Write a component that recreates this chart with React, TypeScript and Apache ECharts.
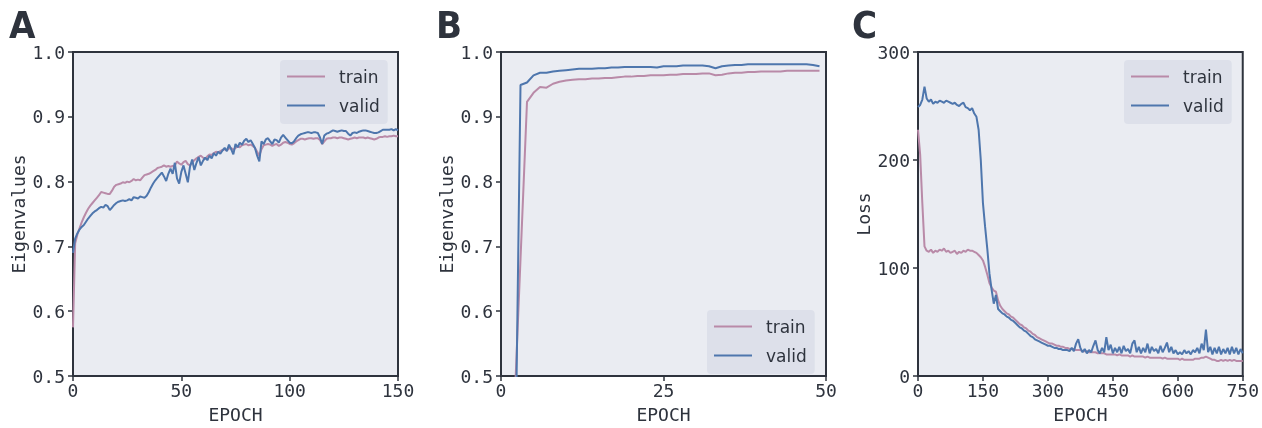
import React, { useEffect, useRef } from "react";
import * as echarts from "echarts";

// Panel A: eigenvalues over 150 epochs (one value per epoch, 0..150)
const trainA = [
  0.575, 0.705, 0.718, 0.728, 0.737, 0.745, 0.752, 0.758, 0.763, 0.767,
  0.771, 0.775, 0.779, 0.784, 0.783, 0.782, 0.781, 0.781, 0.786, 0.792,
  0.795, 0.796, 0.797, 0.799, 0.798, 0.800, 0.799, 0.801, 0.804, 0.802,
  0.803, 0.802, 0.806, 0.810, 0.811, 0.812, 0.814, 0.816, 0.818, 0.821,
  0.822, 0.823, 0.825, 0.823, 0.824, 0.823, 0.824, 0.825, 0.831, 0.828,
  0.826, 0.830, 0.832, 0.827, 0.825, 0.829, 0.833, 0.836, 0.838, 0.840,
  0.837, 0.835, 0.839, 0.842, 0.841, 0.844, 0.846, 0.845, 0.847, 0.849,
  0.850, 0.848, 0.851, 0.852, 0.849, 0.852, 0.854, 0.853, 0.856, 0.857,
  0.858, 0.856, 0.857, 0.855, 0.852, 0.846, 0.840, 0.850, 0.856, 0.857,
  0.858, 0.857, 0.855, 0.857, 0.858, 0.855, 0.857, 0.860, 0.861, 0.860,
  0.858, 0.857, 0.859, 0.862, 0.864, 0.866, 0.866, 0.865, 0.866, 0.867,
  0.867, 0.866, 0.867, 0.867, 0.864, 0.858, 0.862, 0.866, 0.867, 0.867,
  0.868, 0.868, 0.867, 0.868, 0.868, 0.867, 0.866, 0.865, 0.866, 0.867,
  0.868, 0.867, 0.868, 0.868, 0.868, 0.867, 0.868, 0.867, 0.866, 0.865,
  0.866, 0.868, 0.869, 0.869, 0.870, 0.869, 0.870, 0.870, 0.871, 0.870,
  0.870,
];
const validA = [
  0.690, 0.712, 0.720, 0.726, 0.730, 0.733, 0.738, 0.743, 0.747, 0.751,
  0.754, 0.756, 0.759, 0.761, 0.760, 0.764, 0.762, 0.756, 0.760, 0.764,
  0.767, 0.769, 0.770, 0.771, 0.770, 0.771, 0.773, 0.771, 0.776, 0.775,
  0.774, 0.777, 0.776, 0.775, 0.778, 0.784, 0.791, 0.797, 0.802, 0.806,
  0.810, 0.814, 0.808, 0.801, 0.812, 0.820, 0.812, 0.829, 0.805, 0.797,
  0.815, 0.825, 0.812, 0.799, 0.823, 0.834, 0.818, 0.829, 0.838, 0.825,
  0.832, 0.837, 0.833, 0.840, 0.836, 0.844, 0.840, 0.846, 0.843, 0.848,
  0.852, 0.847, 0.857, 0.850, 0.842, 0.858, 0.853, 0.860, 0.857, 0.863,
  0.866, 0.861, 0.864, 0.858, 0.852, 0.840, 0.831, 0.862, 0.858, 0.865,
  0.867, 0.862, 0.858, 0.865, 0.864, 0.860, 0.868, 0.872, 0.868, 0.864,
  0.860, 0.859, 0.862, 0.867, 0.871, 0.873, 0.874, 0.875, 0.876, 0.876,
  0.875, 0.876, 0.876, 0.875, 0.868, 0.858, 0.871, 0.874, 0.875, 0.877,
  0.879, 0.878, 0.877, 0.878, 0.879, 0.878, 0.878, 0.874, 0.871, 0.875,
  0.876, 0.875, 0.877, 0.878, 0.879, 0.879, 0.878, 0.877, 0.876, 0.875,
  0.875, 0.876, 0.878, 0.880, 0.880, 0.880, 0.880, 0.881, 0.879, 0.881,
  0.879,
];

// Panel B: eigenvalues over 50 epochs (0..49); early values sit below the axis floor
const trainB = [
  0.10, 0.25, 0.437, 0.68, 0.923, 0.937, 0.946, 0.945, 0.951, 0.954,
  0.956, 0.957, 0.958, 0.958, 0.959, 0.959, 0.960, 0.960, 0.961, 0.962,
  0.962, 0.963, 0.963, 0.964, 0.964, 0.964, 0.965, 0.965, 0.966, 0.966,
  0.966, 0.967, 0.967, 0.964, 0.965, 0.967, 0.968, 0.968, 0.969, 0.969,
  0.970, 0.970, 0.970, 0.970, 0.971, 0.971, 0.971, 0.971, 0.971, 0.971,
];
const validB = [
  0.08, 0.14, 0.20, 0.949, 0.953, 0.964, 0.968, 0.968, 0.970, 0.971,
  0.972, 0.973, 0.974, 0.974, 0.974, 0.975, 0.975, 0.976, 0.976, 0.977,
  0.977, 0.977, 0.977, 0.977, 0.976, 0.978, 0.978, 0.978, 0.979, 0.979,
  0.979, 0.979, 0.978, 0.975, 0.978, 0.979, 0.980, 0.980, 0.981, 0.981,
  0.981, 0.981, 0.981, 0.981, 0.981, 0.981, 0.981, 0.981, 0.980, 0.978,
];

// Panel C: loss sampled every 5 epochs (0..750)
const LOSS_STEP = 5;
const trainC = [
  228, 205, 160, 120, 116, 115, 117, 114, 116, 115,
  117, 116, 118, 115, 116, 114, 115, 116, 113, 115,
  114, 116, 115, 117, 116, 116, 115, 114, 112, 110,
  107, 101, 94, 86, 82, 79, 78, 70, 65, 62,
  60, 58, 57, 55, 54, 52, 50, 48, 47, 45,
  44, 42, 41, 39, 38, 36, 35, 34, 33, 32,
  31, 30, 30, 29, 28, 28, 27, 27, 26, 26,
  25, 25, 25, 24, 24, 24, 23, 23, 23, 22,
  22, 22, 22, 21, 21, 21, 21, 20, 20, 20,
  20, 20, 19, 20, 19, 19, 19, 19, 18, 19,
  18, 18, 18, 18, 18, 17, 18, 17, 17, 17,
  17, 17, 17, 16, 17, 16, 16, 16, 16, 16,
  16, 15, 16, 15, 15, 15, 15, 15, 16, 16,
  16, 17, 17, 18, 17, 16, 15, 15, 14, 14,
  15, 14, 15, 14, 15, 14, 15, 14, 14, 14,
  14,
];
const validC = [
  249, 251, 256, 268, 257, 254, 256, 252, 254, 253,
  255, 254, 253, 255, 254, 253, 252, 253, 251, 250,
  252, 253, 249, 248, 246, 248, 243, 240, 228, 200,
  160, 138, 118, 95, 80, 67, 75, 62, 60, 58,
  57, 55, 54, 52, 51, 49, 47, 45, 44, 42,
  41, 39, 37, 36, 34, 33, 32, 31, 30, 29,
  28, 28, 27, 26, 26, 25, 25, 24, 24, 24,
  23, 26, 23, 30, 34, 26, 22, 25, 21, 24,
  22, 28, 33, 24, 21, 26, 22, 36, 24, 29,
  21, 26, 22, 27, 21, 28, 23, 25, 21, 30,
  33, 22, 27, 21, 26, 22, 30, 21, 27, 23,
  25, 21, 28, 22, 26, 31, 22, 27, 21, 24,
  20, 22, 20, 24, 21, 23, 20, 24, 22, 26,
  21, 30, 24, 43, 22, 27, 20, 26, 21, 27,
  20, 25, 21, 26, 20, 27, 21, 26, 20, 25,
  21,
];

// Axis ranges and tick steps per panel
const axesA = { xMax: 150, xStep: 50, yMin: 0.5, yMax: 1.0, yStep: 0.1 };
const axesB = { xMax: 50, xStep: 25, yMin: 0.5, yMax: 1.0, yStep: 0.1 };
const axesC = { xMax: 750, xStep: 150, yMin: 0, yMax: 300, yStep: 100 };

const panelLetters = ["A", "B", "C"];
const seriesNames = ["train", "valid"];

const TRAIN_COLOR = "#b98aa8";
const VALID_COLOR = "#4e76ad";
const INK = "#2e333d";
const PLOT_BG = "#eaecf2";
const LEGEND_BG = "#dde0ea";
const MONO = "'DejaVu Sans Mono', monospace";
const SANS = "'DejaVu Sans', sans-serif";

const PLOT = 325;
const PLOT_TOP = 52;
const PLOT_LEFTS = [73, 501, 918];

const pairs = (ys: number[], step: number) => ys.map((y, i) => [i * step, y]);

function makeX(gridIndex: number, ax: { xMax: number; xStep: number }) {
  return {
    type: "value",
    gridIndex,
    min: 0,
    max: ax.xMax,
    interval: ax.xStep,
    name: "EPOCH",
    nameLocation: "middle",
    nameGap: 29,
    nameTextStyle: { fontFamily: MONO, fontSize: 18, color: INK },
    axisLine: { show: true, lineStyle: { color: INK, width: 2 } },
    axisTick: { show: true, inside: false, length: 5, lineStyle: { color: INK, width: 1.5 } },
    axisLabel: { fontFamily: MONO, fontSize: 18, color: INK, margin: 5 },
    splitLine: { show: false },
  };
}

function makeY(
  gridIndex: number,
  ax: { yMin: number; yMax: number; yStep: number },
  name: string,
  digits: number
) {
  return {
    type: "value",
    gridIndex,
    min: ax.yMin,
    max: ax.yMax,
    interval: ax.yStep,
    name,
    nameLocation: "middle",
    nameGap: 46,
    nameTextStyle: { fontFamily: MONO, fontSize: 18, color: INK },
    axisLine: { show: true, lineStyle: { color: INK, width: 2 } },
    axisTick: { show: true, inside: false, length: 5, lineStyle: { color: INK, width: 1.5 } },
    axisLabel: {
      fontFamily: MONO,
      fontSize: 18,
      color: INK,
      margin: 8,
      formatter: (v: number) => v.toFixed(digits),
    },
    splitLine: { show: false },
  };
}

function makeLine(name: string, color: string, idx: number, data: number[][]) {
  return {
    type: "line",
    name,
    xAxisIndex: idx,
    yAxisIndex: idx,
    data,
    symbol: "none",
    clip: true,
    lineStyle: { color, width: 2 },
    itemStyle: { color },
  };
}

// Legend with plain line swatches (thin rects) and a rounded, filled box
function makeLegend(left: number, top: number) {
  return {
    data: seriesNames,
    orient: "vertical",
    left,
    top,
    padding: [8, 8, 10, 7],
    icon: "rect",
    itemWidth: 38,
    itemHeight: 2,
    itemGap: 12,
    backgroundColor: LEGEND_BG,
    borderRadius: 4,
    selectedMode: false,
    textStyle: {
      fontFamily: SANS,
      fontSize: 17,
      lineHeight: 14,
      color: INK,
      padding: [0, 0, 0, 9],
    },
  };
}

export default function App() {
  const ref = useRef<HTMLDivElement>(null);

  useEffect(() => {
    if (!ref.current) return;
    const chart = echarts.init(ref.current, undefined, { renderer: "svg" });

    const grids = PLOT_LEFTS.map((left) => ({
      left,
      top: PLOT_TOP,
      width: PLOT,
      height: PLOT,
      show: true,
      backgroundColor: PLOT_BG,
      borderColor: INK,
      borderWidth: 2,
    }));

    chart.setOption({
      animation: false,
      grid: grids,
      xAxis: [makeX(0, axesA), makeX(1, axesB), makeX(2, axesC)],
      yAxis: [
        makeY(0, axesA, "Eigenvalues", 1),
        makeY(1, axesB, "Eigenvalues", 1),
        makeY(2, axesC, "Loss", 0),
      ],
      legend: [makeLegend(280, 60), makeLegend(707, 310), makeLegend(1124, 60)],
      series: [
        makeLine("train", TRAIN_COLOR, 0, pairs(trainA, 1)),
        makeLine("valid", VALID_COLOR, 0, pairs(validA, 1)),
        makeLine("train", TRAIN_COLOR, 1, pairs(trainB, 1)),
        makeLine("valid", VALID_COLOR, 1, pairs(validB, 1)),
        makeLine("train", TRAIN_COLOR, 2, pairs(trainC, LOSS_STEP)),
        makeLine("valid", VALID_COLOR, 2, pairs(validC, LOSS_STEP)),
      ],
      graphic: panelLetters.map((letter, i) => ({
        type: "text",
        left: [9, 436, 852][i],
        top: 6,
        style: {
          text: letter,
          font: "bold 38px 'Liberation Sans Narrow', 'DejaVu Sans Condensed', sans-serif",
          fill: INK,
        },
      })),
    });

    return () => chart.dispose();
  }, []);

  return (
    <div
      ref={ref}
      style={{ position: "fixed", left: 0, top: 0, width: 1262, height: 428 }}
    />
  );
}
